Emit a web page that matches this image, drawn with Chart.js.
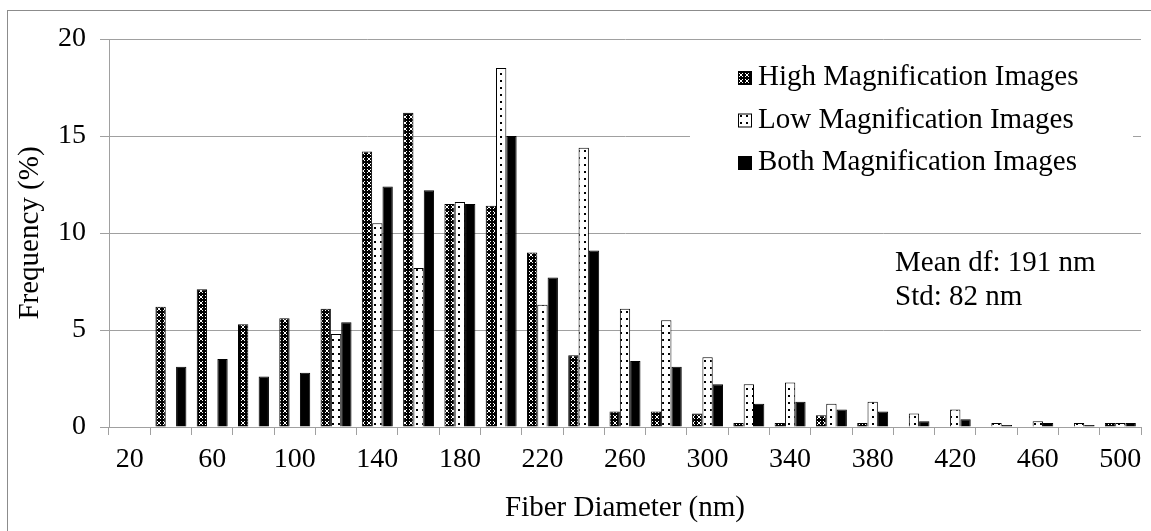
<!DOCTYPE html>
<html>
<head>
<meta charset="utf-8">
<title>Fiber diameter distribution</title>
<script src="https://cdn.jsdelivr.net/npm/chart.js@4.4.1/dist/chart.umd.min.js"></script>
<style>
  html, body { margin: 0; padding: 0; background: #fff; }
  #wrap { width: 1151px; height: 531px; position: relative; }
</style>
</head>
<body>
<div id="wrap"><canvas id="myChart" width="1151" height="531"></canvas></div>
<script>
// fiber diameter bins (nm)
var diameters = ['20', '40', '60', '80', '100', '120', '140', '160', '180', '200', '220', '240', '260',
  '280', '300', '320', '340', '360', '380', '400', '420', '440', '460', '480', '500'];

// frequency (%) per bin
var highMag = [0, 6.2, 7.1, 5.3, 5.6, 6.1, 14.2, 16.2, 11.5, 11.4, 9.0, 3.7, 0.8,
  0.8, 0.7, 0.2, 0.2, 0.6, 0.2, 0, 0, 0, 0, 0, 0.2];
var lowMag = [0, 0, 0, 0, 0, 4.8, 10.5, 8.2, 11.6, 18.5, 6.3, 14.4, 6.1,
  5.5, 3.6, 2.2, 2.3, 1.2, 1.3, 0.7, 0.9, 0.2, 0.3, 0.2, 0.2];
var bothMag = [0, 3.1, 3.5, 2.6, 2.8, 5.4, 12.4, 12.2, 11.5, 15.0, 7.7, 9.1, 3.4,
  3.1, 2.2, 1.2, 1.3, 0.9, 0.8, 0.3, 0.4, 0.1, 0.2, 0.1, 0.2];

var seriesNames = ['High Magnification Images', 'Low Magnification Images', 'Both Magnification Images'];
var statsLines = ['Mean df: 191 nm', 'Std: 82 nm'];
var yMax = 20;
var yStep = 5;

var serif = "'Liberation Serif', 'Times New Roman', serif";
var gridGray = '#a0a0a0';

function makePattern(w, h, draw) {
  var c = document.createElement('canvas');
  c.width = w;
  c.height = h;
  var g = c.getContext('2d');
  draw(g);
  return g.createPattern(c, 'repeat');
}

// dark crosshatch-ish fill for the high magnification bars
var highFill = makePattern(6, 6, function (g) {
  g.fillStyle = '#000';
  g.fillRect(0, 0, 6, 6);
  g.fillStyle = '#fff';
  [[1, 1], [4, 1], [2, 2], [3, 2], [2, 3], [3, 3], [1, 4], [4, 4]].forEach(function (p) {
    g.fillRect(p[0], p[1], 1, 1);
  });
});
// white with sparse dots for the low magnification bars
var lowFill = makePattern(6, 7, function (g) {
  g.fillStyle = '#fff';
  g.fillRect(0, 0, 6, 7);
  g.fillStyle = '#000';
  g.fillRect(2, 3, 2, 2);
});
var bothFill = '#000';

var extras = {
  id: 'extras',
  beforeDraw: function (chart) {
    var ctx = chart.ctx;
    ctx.save();
    ctx.fillStyle = '#fff';
    ctx.fillRect(0, 0, chart.width, chart.height);
    ctx.strokeStyle = '#8c8c8c';
    ctx.lineWidth = 1;
    ctx.strokeRect(7.5, 10.5, chart.width + 20, chart.height + 20);
    ctx.restore();
  },
  beforeDatasetsDraw: function (chart) {
    // the legend box sits on top of the gridlines
    var ctx = chart.ctx;
    ctx.save();
    ctx.fillStyle = '#fff';
    ctx.fillRect(690, 55, 443, 135);
    ctx.restore();
  },
  afterDraw: function (chart) {
    var ctx = chart.ctx;
    ctx.save();
    ctx.font = '29px ' + serif;
    ctx.textBaseline = 'alphabetic';
    ctx.textAlign = 'left';
    chart.data.datasets.forEach(function (ds, i) {
      var base = 85 + i * 42.5;
      ctx.fillStyle = ds.backgroundColor;
      ctx.fillRect(738, base - 14, 14, 14);
      ctx.strokeStyle = '#000';
      ctx.lineWidth = 1;
      ctx.strokeRect(738.5, base - 13.5, 13, 13);
      ctx.fillStyle = '#000';
      ctx.fillText(ds.label, 758, base);
    });
    statsLines.forEach(function (t, i) {
      ctx.fillText(t, 895, 271 + i * 34);
    });
    ctx.restore();
  }
};

var ctx = document.getElementById('myChart').getContext('2d');
var config = {
  type: 'bar',
  data: {
    labels: diameters,
    datasets: [
      { label: seriesNames[0], data: highMag, backgroundColor: highFill },
      { label: seriesNames[1], data: lowMag, backgroundColor: lowFill },
      { label: seriesNames[2], data: bothMag, backgroundColor: bothFill }
    ].map(function (ds) {
      ds.borderColor = '#000';
      ds.borderWidth = 1;
      ds.categoryPercentage = 0.75;
      ds.barPercentage = 1.0;
      return ds;
    })
  },
  options: {
    responsive: false,
    animation: false,
    devicePixelRatio: 1,
    layout: { padding: { left: 0, top: 39, right: 10, bottom: 0 } },
    plugins: {
      legend: { display: false },
      tooltip: { enabled: false }
    },
    scales: {
      x: {
        grid: { offset: true, drawOnChartArea: false, drawTicks: true, tickLength: 8, color: gridGray },
        border: { display: true, color: gridGray },
        ticks: {
          autoSkip: false,
          maxRotation: 0,
          padding: 8,
          color: '#000',
          font: { family: serif, size: 28 },
          callback: function (v, i) { return i % 2 === 0 ? this.getLabelForValue(v) : ''; }
        },
        title: {
          display: true,
          text: 'Fiber Diameter (nm)',
          color: '#000',
          font: { family: serif, size: 29 },
          padding: { top: 0, bottom: 5 }
        },
        afterFit: function (scale) { scale.height = 104; }
      },
      y: {
        min: 0,
        max: yMax,
        grid: { drawTicks: true, tickLength: 9, color: gridGray },
        border: { display: true, color: gridGray },
        ticks: {
          stepSize: yStep,
          padding: 14,
          color: '#000',
          font: { family: serif, size: 28 }
        },
        title: {
          display: true,
          text: 'Frequency (%)',
          color: '#000',
          font: { family: serif, size: 29 },
          padding: { top: 13, bottom: 0 }
        },
        afterFit: function (scale) { scale.width = 109; }
      }
    }
  },
  plugins: [extras]
};
var myChart = new Chart(ctx, config);
</script>
</body>
</html>
